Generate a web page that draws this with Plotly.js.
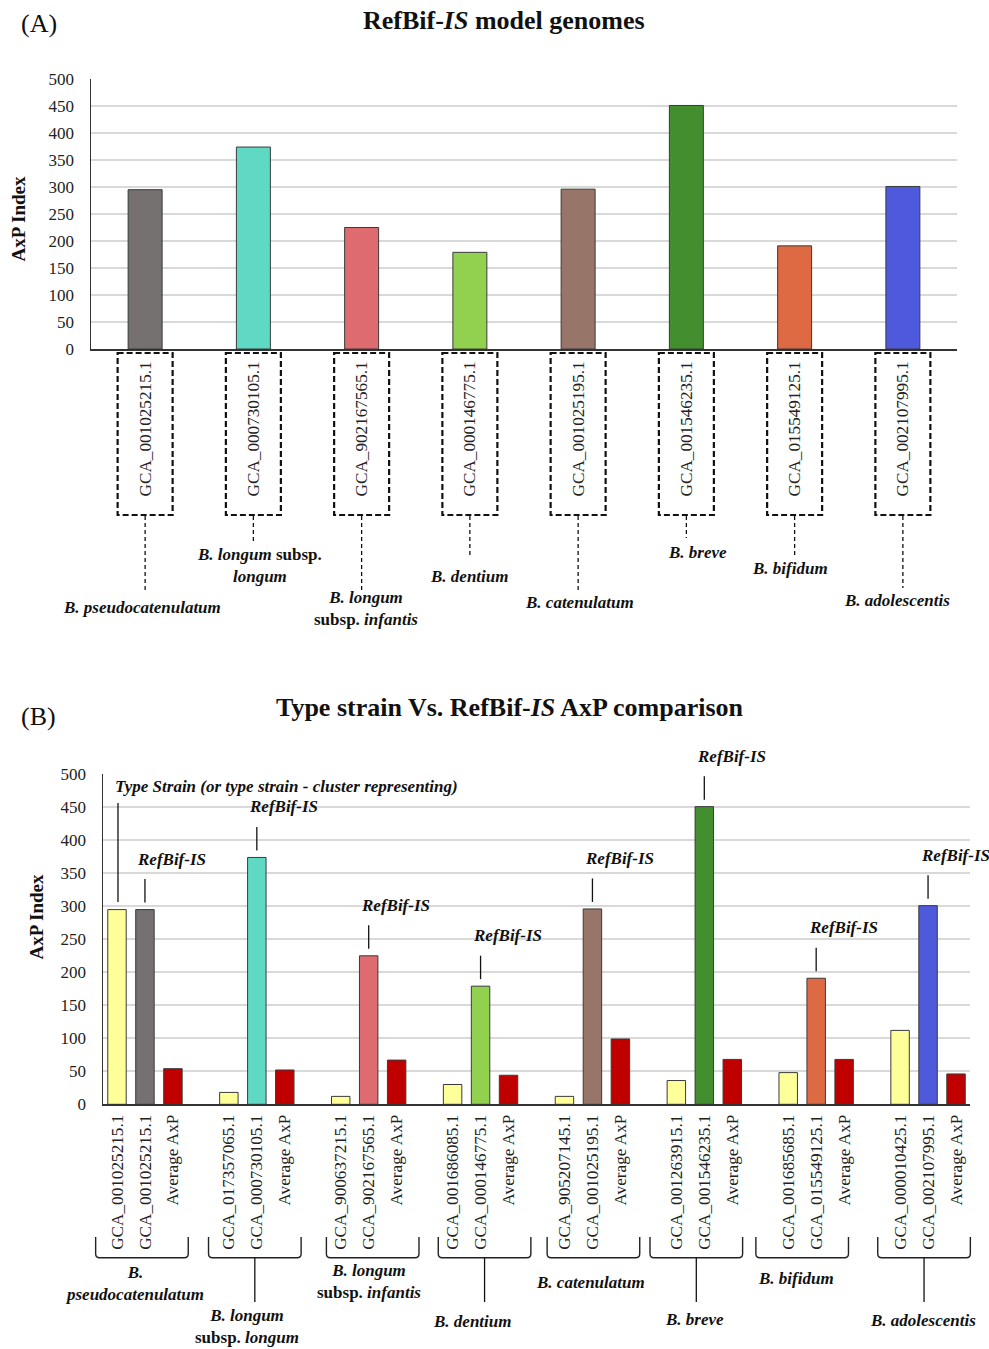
<!DOCTYPE html>
<html><head><meta charset="utf-8">
<script src="https://cdn.plot.ly/plotly-3.0.1.min.js"></script>
<style>html,body{margin:0;padding:0;background:#fff}</style>
</head><body>
<div id="chart" style="width:989px;height:1349px"></div>
<script>
// ---------------- DATA ----------------
const refBifGenomes = ["GCA_001025215.1","GCA_000730105.1","GCA_902167565.1","GCA_000146775.1","GCA_001025195.1","GCA_001546235.1","GCA_015549125.1","GCA_002107995.1"];
const typeStrainGenomes = ["GCA_001025215.1","GCA_017357065.1","GCA_900637215.1","GCA_001686085.1","GCA_905207145.1","GCA_001263915.1","GCA_001685685.1","GCA_000010425.1"];
const axpRefBif = [295, 374, 225, 179, 296, 451, 191, 301];
const axpTypeStrain = [295, 18, 12, 30, 12, 36, 48, 112];
const axpAverage = [54, 52, 67, 44, 99, 68, 68, 46];
const averageLabel = "Average AxP";
const speciesLabelsA = [
  "<b><i>B. pseudocatenulatum</i></b>",
  "<b><i>B. longum</i> subsp.</b><br><b><i>longum</i></b>",
  "<b><i>B. longum</i></b><br><b>subsp. <i>infantis</i></b>",
  "<b><i>B. dentium</i></b>",
  "<b><i>B. catenulatum</i></b>",
  "<b><i>B. breve</i></b>",
  "<b><i>B. bifidum</i></b>",
  "<b><i>B. adolescentis</i></b>"
];
const speciesLabelsB = [
  "<b><i>B.</i></b><br><b><i>pseudocatenulatum</i></b>",
  "<b><i>B. longum</i></b><br><b>subsp. <i>longum</i></b>",
  "<b><i>B. longum</i></b><br><b>subsp. <i>infantis</i></b>",
  "<b><i>B. dentium</i></b>",
  "<b><i>B. catenulatum</i></b>",
  "<b><i>B. breve</i></b>",
  "<b><i>B. bifidum</i></b>",
  "<b><i>B. adolescentis</i></b>"
];
const yTicks = [0,50,100,150,200,250,300,350,400,450,500];

// ---------------- STYLE / LAYOUT CONSTANTS ----------------
const refBifColors = ["#767171","#5fd9c3","#dd6b70","#92d14f","#977669","#438f30","#de6a44","#4f59dc"];
const typeColor = "#ffff99";
const avgColor = "#c00000";
const W = 989, H = 1349;
const FONT = "Liberation Serif, Times New Roman, serif";
const A = {x0: 91, x1: 957, y0: 79, y1: 349, n: 8};
const B = {x0: 103, x1: 970, y0: 774.3, y1: 1104.3, n: 31};
// label placements (px)
const labelAx = [142, 259, 365.5, 469, 579.5, 697.5, 790, 896.5];
const labelAy = [607, 565, 608.5, 576, 602, 552, 568, 601];
const leaderAEnd = [592, 544, 592, 557, 590, 538, 557, 588];
const braceShift = [-3, -2, 4, 4, 1, -8, -14, -4];
const labelBx = [134.5, 247, 369, 472, 590, 694, 795.5, 923];
const labelBy = [1283, 1326, 1281, 1321, 1282, 1319, 1278, 1320];
const stemB = [false, true, false, true, false, true, false, true];
const LBL = 17;

const px = v => v / W;
const py = v => 1 - v / H;
const xA = v => A.x0 + (v + 0.5) * (A.x1 - A.x0) / A.n;
const yA = v => A.y1 - v * (A.y1 - A.y0) / 500;
const xB = v => B.x0 + (v + 0.5) * (B.x1 - B.x0) / B.n;
const yB = v => B.y1 - v * (B.y1 - B.y0) / 500;

// ---------------- TRACES ----------------
const idxA = refBifGenomes.map((_, i) => i);
const traces = [];
traces.push({
  type: "bar", x: idxA, y: axpRefBif, width: 0.314, xaxis: "x", yaxis: "y",
  marker: {color: refBifColors, line: {color: "#3a3a3a", width: 1}}, showlegend: false
});
const gType = idxA.map(g => g * 4), gRef = idxA.map(g => g * 4 + 1), gAvg = idxA.map(g => g * 4 + 2);
traces.push({type: "bar", x: gType, y: axpTypeStrain, width: 0.66, xaxis: "x2", yaxis: "y2",
  marker: {color: typeColor, line: {color: "#3a3a3a", width: 1}}, showlegend: false});
traces.push({type: "bar", x: gRef, y: axpRefBif, width: 0.66, xaxis: "x2", yaxis: "y2",
  marker: {color: refBifColors, line: {color: "#3a3a3a", width: 1}}, showlegend: false});
traces.push({type: "bar", x: gAvg, y: axpAverage, width: 0.66, xaxis: "x2", yaxis: "y2",
  marker: {color: avgColor, line: {color: "#3a3a3a", width: 1}}, showlegend: false});

const tickValsB = [], tickTextB = [];
idxA.forEach(g => {
  tickValsB.push(g * 4, g * 4 + 1, g * 4 + 2);
  tickTextB.push(typeStrainGenomes[g], refBifGenomes[g], averageLabel);
});

// ---------------- SHAPES & ANNOTATIONS ----------------
const shapes = [], ann = [];
const txt = (text, x, y, size, extra) => Object.assign({
  text, x: px(x), y: py(y), xref: "paper", yref: "paper", showarrow: false,
  xanchor: "center", yanchor: "middle", font: {family: FONT, size, color: "#111"}
}, extra || {});
const line = (x0, y0, x1, y1, w, dash) => ({
  type: "line", xref: "paper", yref: "paper", x0: px(x0), y0: py(y0), x1: px(x1), y1: py(y1),
  line: {color: "#111", width: w, dash: dash || "solid"}
});

// Titles
ann.push(txt("(A)", 38.5, 23, 26));
ann.push(txt("<b>RefBif-<i>IS</i> model genomes</b>", 503.5, 20, 26));
ann.push(txt("<b>AxP Index</b>", 18.5, 219, 19, {textangle: -90}));
ann.push(txt("(B)", 38, 716, 26));
ann.push(txt("<b>Type strain Vs. RefBif-<i>IS</i> AxP comparison</b>", 510, 708, 26));
ann.push(txt("<b>AxP Index</b>", 35.5, 917, 19, {textangle: -90}));

// Panel A: dashed boxes, leaders, species
const halfBoxA = 27.5;
idxA.forEach(i => {
  const cx = xA(i);
  shapes.push({type: "rect", xref: "paper", yref: "paper",
    x0: px(cx - halfBoxA), x1: px(cx + halfBoxA), y0: py(353), y1: py(515),
    line: {color: "#111", width: 2.2, dash: "6px,3px"}});
  shapes.push(line(cx, 516, cx, leaderAEnd[i], 1.3, "4px,3px"));
  ann.push(txt(speciesLabelsA[i], labelAx[i], labelAy[i], LBL));
});

// Panel B: annotations above bars
ann.push(txt("<b><i>Type Strain (or type strain - cluster representing)</i></b>", 286, 786.5, LBL));
shapes.push(line(xB(0) + 1, 803, xB(0) + 1, yB(axpTypeStrain[0]) - 7.5, 1.3));
idxA.forEach(g => {
  const cx = xB(g * 4 + 1), top = yB(axpRefBif[g]);
  shapes.push(line(cx, top - 30.5, cx, top - 7, 1.3));
  ann.push(txt("<b><i>RefBif-IS</i></b>", cx + 27, top - 50.5, LBL));
});

// Panel B: braces, stems and species
const halfBrace = 46.3, r = 4, bTop = 1237, bBot = 1257.7;
idxA.forEach(g => {
  const c = xB(g * 4 + 1) + braceShift[g];
  const L = c - halfBrace, R = c + halfBrace;
  const path = `M ${px(L)},${py(bTop)} L ${px(L)},${py(bBot - r)} Q ${px(L)},${py(bBot)} ${px(L + r)},${py(bBot)} ` +
    `L ${px(R - r)},${py(bBot)} Q ${px(R)},${py(bBot)} ${px(R)},${py(bBot - r)} L ${px(R)},${py(bTop)}`;
  shapes.push({type: "path", xref: "paper", yref: "paper", path, line: {color: "#222", width: 1.4}});
  if (stemB[g]) shapes.push(line(c, bBot, c, 1302, 1.3));
  ann.push(txt(speciesLabelsB[g], labelBx[g], labelBy[g], LBL));
});

// ---------------- LAYOUT ----------------
const tickFontX = {family: FONT, size: 17.2, color: "#222"};
const tickFontY = {family: FONT, size: 17, color: "#222"};
const yAxisCommon = {
  range: [0, 500], tickvals: yTicks, showgrid: true, gridcolor: "#d9d9d9", gridwidth: 1.8,
  showline: true, linecolor: "#333", linewidth: 1.5, zeroline: false, ticks: "",
  ticklabelstandoff: 12, tickfont: tickFontY, fixedrange: true
};
const layout = {
  width: W, height: H, margin: {l: 0, r: 0, t: 0, b: 0},
  paper_bgcolor: "#fff", plot_bgcolor: "#fff", barmode: "overlay", showlegend: false,
  font: {family: FONT, color: "#111"},
  xaxis: {domain: [px(A.x0), px(A.x1)], range: [-0.5, A.n - 0.5], tickvals: idxA, ticktext: refBifGenomes,
    tickangle: -90, tickfont: tickFontX, showline: true, linecolor: "#333", linewidth: 1.5,
    showgrid: false, zeroline: false, ticks: "", ticklabelstandoff: 4, anchor: "y", fixedrange: true},
  yaxis: Object.assign({domain: [py(A.y1), py(A.y0)], anchor: "x"}, yAxisCommon),
  xaxis2: {domain: [px(B.x0), px(B.x1)], range: [-0.5, B.n - 0.5], tickvals: tickValsB, ticktext: tickTextB,
    tickangle: -90, tickfont: tickFontX, showline: true, linecolor: "#333", linewidth: 1.5,
    showgrid: false, zeroline: false, ticks: "", ticklabelstandoff: 2, anchor: "y2", fixedrange: true},
  yaxis2: Object.assign({domain: [py(B.y1), py(B.y0)], anchor: "x2"}, yAxisCommon),
  shapes, annotations: ann
};
Plotly.newPlot("chart", traces, layout, {staticPlot: true, displayModeBar: false});
</script>
</body></html>
